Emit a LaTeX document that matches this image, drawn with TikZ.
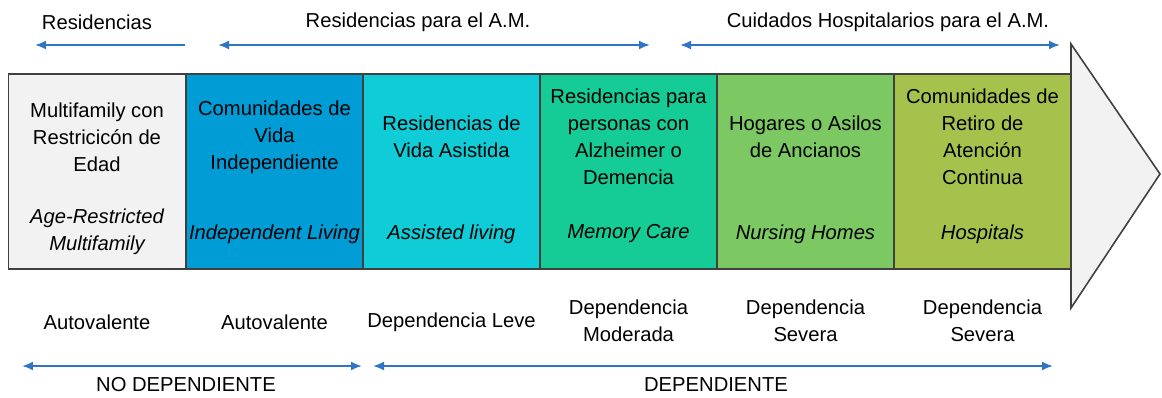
\documentclass[tikz,border=0pt]{standalone}
\usepackage{fontspec}
\setmainfont{Liberation Sans}
\usetikzlibrary{arrows.meta}
\definecolor{azulflecha}{RGB}{46,117,198}
\definecolor{gris}{RGB}{242,242,242}
\definecolor{azul}{RGB}{0,156,214}
\definecolor{cian}{RGB}{16,204,214}
\definecolor{turquesa}{RGB}{22,204,150}
\definecolor{verde}{RGB}{124,200,98}
\definecolor{oliva}{RGB}{166,194,76}
\tikzset{
  caja/.style={draw=black!75, line width=0.9pt, minimum width=3.54cm, minimum height=3.9cm, inner sep=0pt},
  texto/.style={align=center, inner sep=0pt},
  ingles/.style={align=center, inner sep=0pt, font=\fontsize{11.5}{15.4}\selectfont\itshape},
  flecha/.style={draw=azulflecha, line width=1.1pt, {Latex[length=2.2mm,width=1.8mm]}-{Latex[length=2.2mm,width=1.8mm]}},
  flechaizq/.style={draw=azulflecha, line width=1.1pt, -{Latex[length=2.2mm,width=1.8mm]}}
}

\begin{document}
\begin{tikzpicture}[x=0.02cm,y=-0.02cm,font=\fontsize{11.5}{15.4}\selectfont]
\useasboundingbox (0,0) rectangle (1162,398);
% niveles
\node[caja, fill=gris] (a) at (97,171.5) {};
\node[caja, fill=azul] (b) at (274.5,171.5) {};
\node[caja, fill=cian] (c) at (451.5,171.5) {};
\node[caja, fill=turquesa] (d) at (628.5,171.5) {};
\node[caja, fill=verde] (e) at (805.5,171.5) {};
\node[caja, fill=oliva] (f) at (982.5,171.5) {};
\draw[draw=black!75, line width=0.9pt, fill=gris] (1071,44) -- (1160,174) -- (1071,308) -- cycle;

\node[texto] (a1) at (97,137) {Multifamily con\\Restricicón de\\Edad};
\node[texto] (b1) at (274.5,137) {Comunidades de\\Vida\\Independiente};
\node[texto] (c1) at (451.5,137) {Residencias de\\Vida Asistida};
\node[texto] (d1) at (628.5,137) {Residencias para\\personas con\\Alzheimer o\\Demencia};
\node[texto] (e1) at (805.5,137) {Hogares o Asilos\\de Ancianos};
\node[texto] (f1) at (982.5,137) {Comunidades de\\Retiro de\\Atención\\Continua};

\node[ingles] (a2) at (97,232) {Age-Restricted\\Multifamily};
\node[ingles] (b2) at (274.5,234) {Independent Living};
\node[ingles] (c2) at (451.5,234) {Assisted living};
\node[ingles] (d2) at (628.5,234) {Memory Care};
\node[ingles] (e2) at (805.5,234) {Nursing Homes};
\node[ingles] (f2) at (982.5,234) {Hospitals};

% arriba
\coordinate (p1) at (35,45);
\coordinate (q1) at (185,45);
\coordinate (p2) at (218,45);
\coordinate (q2) at (650,45);
\coordinate (p3) at (680,45);
\coordinate (q3) at (1060,45);
\draw[flechaizq] (q1) -- (p1);
\draw[flecha] (p2) -- (q2);
\draw[flecha] (p3) -- (q3);
\node[texto] (r1) at (97,22) {Residencias};
\node[texto] (r2) at (418,22) {Residencias para el A.M.};
\node[texto] (r3) at (888,22) {Cuidados Hospitalarios para el A.M.};

% abajo
\node[texto] (a3) at (97,322) {Autovalente};
\node[texto] (b3) at (274.5,322) {Autovalente};
\node[texto] (c3) at (451.5,322) {Dependencia Leve};
\node[texto] (d3) at (628.5,321) {Dependencia\\Moderada};
\node[texto] (e3) at (805.5,321) {Dependencia\\Severa};
\node[texto] (f3) at (982.5,321) {Dependencia\\Severa};

\coordinate (s1) at (22,366);
\coordinate (t1) at (362,366);
\coordinate (s2) at (373,366);
\coordinate (t2) at (1053,366);
\draw[flecha] (s1) -- (t1);
\draw[flecha] (s2) -- (t2);
\node[texto] (n1) at (186,385) {NO DEPENDIENTE};
\node[texto] (n2) at (716,385) {DEPENDIENTE};
\end{tikzpicture}
\end{document}
